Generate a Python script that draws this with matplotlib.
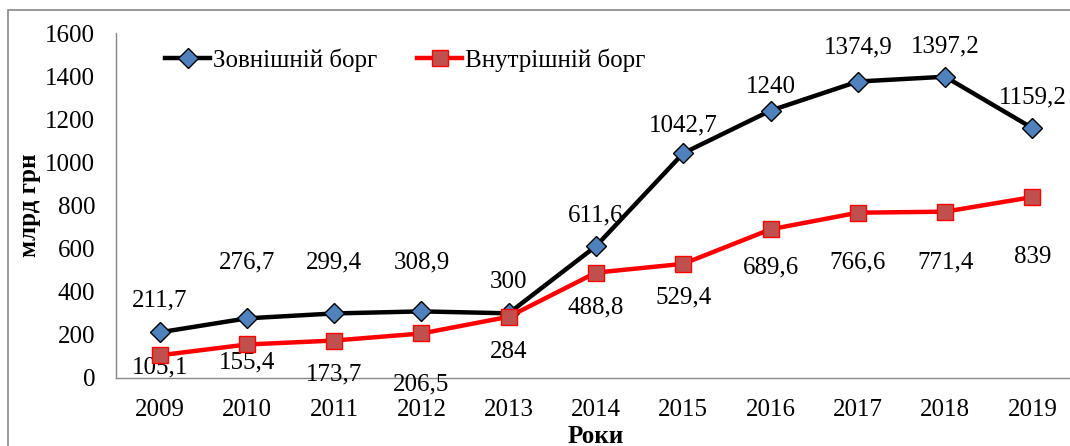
import matplotlib
matplotlib.use("Agg")
import matplotlib.pyplot as plt
from matplotlib.patches import Rectangle

years = ["2009", "2010", "2011", "2012", "2013", "2014", "2015", "2016", "2017", "2018", "2019"]
external = [211.7, 276.7, 299.4, 308.9, 300, 611.6, 1042.7, 1240, 1374.9, 1397.2, 1159.2]
internal = [105.1, 155.4, 173.7, 206.5, 284, 488.8, 529.4, 689.6, 766.6, 771.4, 839]
ext_labels = ["211,7", "276,7", "299,4", "308,9", "300", "611,6", "1042,7", "1240", "1374,9", "1397,2", "1159,2"]
int_labels = ["105,1", "155,4", "173,7", "206,5", "284", "488,8", "529,4", "689,6", "766,6", "771,4", "839"]
yticks = [0, 200, 400, 600, 800, 1000, 1200, 1400, 1600]

# label placement (pixel offsets of label centre from point, positive = up)
ext_off_px = [32, 56, 51, 49, 31, 31, 28, 24, 34, 30, 31]
int_off_px = [-12, -18, -34, -51, -35, -35, -34, -38, -50, -51, -60]

plt.rcParams['font.family'] = ['Liberation Serif', 'DejaVu Serif']
FS = 18

fig = plt.figure(figsize=(10.70, 4.46), dpi=100)
fig.patches.append(Rectangle((8/1070, -0.1), 1.2, 1 - 10/446 + 0.1, transform=fig.transFigure,
                             fill=False, edgecolor='#888888', linewidth=1.2))

ax = fig.add_axes([116/1070, (446-378)/446, (1076-116)/1070, (378-33)/446])
x = list(range(len(years)))
ax.plot(x, external, color='black', linewidth=3.2, marker='D', markersize=10,
        markerfacecolor='#4F81BD', markeredgecolor='black', markeredgewidth=1.0,
        label='Зовнішній борг', zorder=3)
ax.plot(x, internal, color='#FF0000', linewidth=3.2, marker='s', markersize=11,
        markerfacecolor='#C0504D', markeredgecolor='#FF0000', markeredgewidth=1.0,
        label='Внутрішній борг', zorder=4)

for xi, v, lab, o in zip(x, external, ext_labels, ext_off_px):
    ax.annotate(lab, (xi, v), xytext=(0, o * 0.72), textcoords='offset points',
                ha='center', va='center', fontsize=FS)
for xi, v, lab, o in zip(x, internal, int_labels, int_off_px):
    ax.annotate(lab, (xi, v), xytext=(0, o * 0.72), textcoords='offset points',
                ha='center', va='center', fontsize=FS)

ax.set_xlim(-0.5, len(years) - 0.5)
ax.set_ylim(0, 1600)
ax.set_yticks(yticks)
ax.set_yticklabels([str(t) for t in yticks], fontsize=FS)
ax.set_xticks(x)
ax.set_xticklabels(years, fontsize=FS)
ax.tick_params(axis='x', length=0, pad=15)
ax.tick_params(axis='y', length=0, pad=15)
for s in ['top', 'right']:
    ax.spines[s].set_visible(False)
for s in ['left', 'bottom']:
    ax.spines[s].set_color('#888888')
    ax.spines[s].set_linewidth(1.0)

ax.set_ylabel('млрд грн', fontsize=FS, fontweight='bold', labelpad=3)
ax.set_xlabel('Роки', fontsize=FS, fontweight='bold', labelpad=3)

leg = ax.legend(loc='center left', bbox_to_anchor=((165-116)/960, (378-60)/345), ncol=2,
                frameon=False, fontsize=FS, handlelength=1.8, handletextpad=0.12,
                columnspacing=1.6, borderaxespad=0, borderpad=0)

fig.savefig('out.png', dpi=100)
